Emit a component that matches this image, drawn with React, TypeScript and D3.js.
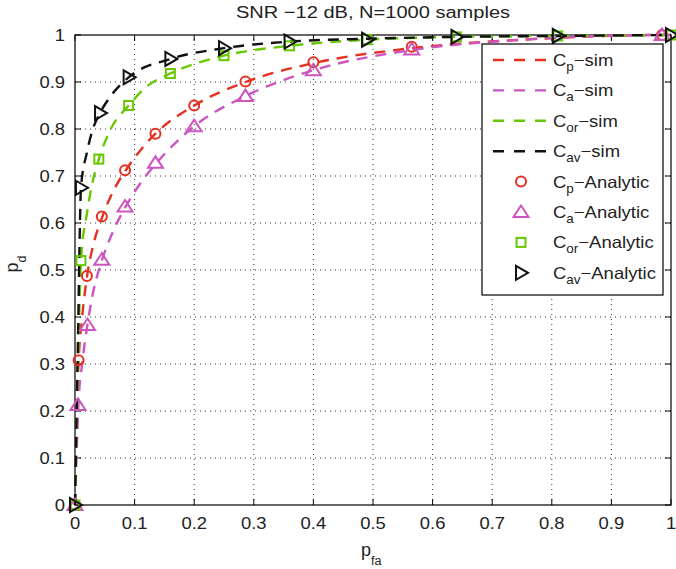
import React from "react";
import * as d3 from "d3";

// ---------- data ----------
const xTicks = [0, 0.1, 0.2, 0.3, 0.4, 0.5, 0.6, 0.7, 0.8, 0.9, 1];
const yTicks = [0, 0.1, 0.2, 0.3, 0.4, 0.5, 0.6, 0.7, 0.8, 0.9, 1];

// simulation curves (dashed)
const cpSimX = [0, 0.003, 0.006, 0.012, 0.02, 0.03, 0.045, 0.065, 0.084, 0.11, 0.135, 0.2, 0.286, 0.4, 0.565, 0.75, 0.985, 1];
const cpSimY = [0, 0.2, 0.305, 0.4, 0.485, 0.55, 0.61, 0.67, 0.71, 0.755, 0.79, 0.85, 0.9, 0.94, 0.972, 0.99, 1, 1];
const caSimX = [0, 0.003, 0.006, 0.012, 0.021, 0.03, 0.045, 0.065, 0.085, 0.11, 0.135, 0.2, 0.286, 0.4, 0.565, 0.75, 0.985, 1];
const caSimY = [0, 0.12, 0.22, 0.3, 0.385, 0.45, 0.52, 0.585, 0.635, 0.685, 0.725, 0.806, 0.87, 0.925, 0.968, 0.99, 1, 1];
const corSimX = [0, 0.003, 0.006, 0.01, 0.02, 0.03, 0.04, 0.06, 0.09, 0.12, 0.16, 0.25, 0.36, 0.49, 0.64, 0.81, 1];
const corSimY = [0, 0.2, 0.35, 0.52, 0.62, 0.69, 0.736, 0.8, 0.85, 0.89, 0.918, 0.956, 0.977, 0.99, 0.996, 0.998, 1];
const cavSimX = [0, 0.002, 0.005, 0.008, 0.01, 0.02, 0.03, 0.042, 0.06, 0.09, 0.16, 0.25, 0.36, 0.49, 0.64, 0.81, 1];
const cavSimY = [0, 0.15, 0.35, 0.58, 0.675, 0.75, 0.8, 0.834, 0.87, 0.91, 0.949, 0.972, 0.986, 0.992, 0.996, 0.998, 1];

// analytic markers
const cpAnX = [0, 0.006, 0.02, 0.045, 0.084, 0.135, 0.2, 0.286, 0.4, 0.565, 0.985];
const cpAnY = [0, 0.308, 0.487, 0.614, 0.712, 0.79, 0.85, 0.901, 0.942, 0.975, 1];
const caAnX = [0, 0.005, 0.021, 0.045, 0.084, 0.135, 0.2, 0.286, 0.4, 0.565, 0.985];
const caAnY = [0, 0.213, 0.383, 0.522, 0.635, 0.728, 0.806, 0.87, 0.925, 0.969, 1];
const corAnX = [0, 0.01, 0.04, 0.09, 0.16, 0.25, 0.36, 0.49, 0.64, 0.81, 1];
const corAnY = [0, 0.52, 0.736, 0.85, 0.918, 0.956, 0.977, 0.99, 0.996, 0.998, 1];
const cavAnX = [0, 0.01, 0.042, 0.09, 0.16, 0.25, 0.36, 0.49, 0.64, 0.81, 1];
const cavAnY = [0, 0.675, 0.834, 0.91, 0.949, 0.972, 0.986, 0.99, 0.996, 0.998, 1];

const legendNames = [
  { base: "C", sub: "p", rest: "\u2212sim" },
  { base: "C", sub: "a", rest: "\u2212sim" },
  { base: "C", sub: "or", rest: "\u2212sim" },
  { base: "C", sub: "av", rest: "\u2212sim" },
  { base: "C", sub: "p", rest: "\u2212Analytic" },
  { base: "C", sub: "a", rest: "\u2212Analytic" },
  { base: "C", sub: "or", rest: "\u2212Analytic" },
  { base: "C", sub: "av", rest: "\u2212Analytic" },
];

const RED = "#e5301f";
const MAG = "#cc55c0";
const GRN = "#66c800";
const BLK = "#111111";

const W = 676;
const H = 569;
const FONT = "'Liberation Sans', Arial, Helvetica, sans-serif";
const SX = 1.15;

const x = d3.scaleLinear().domain([0, 1]).range([75, 671]);
const y = d3.scaleLinear().domain([0, 1]).range([505, 35]);

const zip = (xs: number[], ys: number[]) => xs.map((v, i) => [v, ys[i]] as [number, number]);

const lineGen = d3
  .line<[number, number]>()
  .x((d) => x(d[0]))
  .y((d) => y(d[1]))
  .curve(d3.curveMonotoneX);

function Marker({ kind, cx, cy, color }: { kind: string; cx: number; cy: number; color: string }) {
  const sw = 2;
  if (kind === "circle") return <circle cx={cx} cy={cy} r={5} fill="none" stroke={color} strokeWidth={sw} />;
  if (kind === "tri")
    return (
      <polygon
        points={`${cx},${cy - 6.5} ${cx + 7.5},${cy + 5} ${cx - 7.5},${cy + 5}`}
        fill="none"
        stroke={color}
        strokeWidth={sw}
      />
    );
  if (kind === "sq")
    return <rect x={cx - 4.5} y={cy - 4.5} width={9} height={9} fill="none" stroke={color} strokeWidth={sw} />;
  return (
    <polygon
      points={`${cx - 5},${cy - 7} ${cx + 7},${cy} ${cx - 5},${cy + 7}`}
      fill="none"
      stroke={color}
      strokeWidth={sw}
    />
  );
}

export default function App() {
  const sims = [
    { d: zip(cpSimX, cpSimY), c: RED },
    { d: zip(caSimX, caSimY), c: MAG },
    { d: zip(corSimX, corSimY), c: GRN },
    { d: zip(cavSimX, cavSimY), c: BLK },
  ];
  const ans = [
    { d: zip(cpAnX, cpAnY), c: RED, k: "circle" },
    { d: zip(caAnX, caAnY), c: MAG, k: "tri" },
    { d: zip(corAnX, corAnY), c: GRN, k: "sq" },
    { d: zip(cavAnX, cavAnY), c: BLK, k: "rtri" },
  ];
  const legendColors = [RED, MAG, GRN, BLK, RED, MAG, GRN, BLK];
  const legendKinds = ["", "", "", "", "circle", "tri", "sq", "rtri"];
  const [x0, x1] = x.range();
  const [y0, y1] = y.range();
  const dash = "11,8";
  const grid = "1,4";
  const tl = 6;
  const fmt = d3.format("~g");

  return (
    <svg width={W} height={H} style={{ position: "absolute", left: 0, top: 0, background: "#fff" }} fontFamily={FONT}>
      <rect x={0} y={0} width={W} height={H} fill="#fff" />
      {/* grid */}
      {xTicks.slice(1, -1).map((t) => (
        <line key={"gx" + t} x1={x(t)} x2={x(t)} y1={y0} y2={y1} stroke="#333" strokeWidth={1} strokeDasharray={grid} />
      ))}
      {yTicks.slice(1, -1).map((t) => (
        <line key={"gy" + t} x1={x0} x2={x1} y1={y(t)} y2={y(t)} stroke="#333" strokeWidth={1} strokeDasharray={grid} />
      ))}
      {/* ticks */}
      {xTicks.map((t) => (
        <g key={"tx" + t}>
          <line x1={x(t)} x2={x(t)} y1={y0} y2={y0 - tl} stroke="#000" />
          <line x1={x(t)} x2={x(t)} y1={y1} y2={y1 + tl} stroke="#000" />
          <text transform={`translate(${x(t)},529) scale(${SX},1)`} fontSize={16} textAnchor="middle" fill="#222">
            {fmt(t)}
          </text>
        </g>
      ))}
      {yTicks.map((t) => (
        <g key={"ty" + t}>
          <line x1={x0} x2={x0 + tl} y1={y(t)} y2={y(t)} stroke="#000" />
          <line x1={x1} x2={x1 - tl} y1={y(t)} y2={y(t)} stroke="#000" />
          <text transform={`translate(65,${y(t) + 5.5}) scale(${SX},1)`} fontSize={16} textAnchor="end" fill="#222">
            {fmt(t)}
          </text>
        </g>
      ))}
      {/* box */}
      <rect x={x0} y={y1} width={x1 - x0} height={y0 - y1} fill="none" stroke="#000" strokeWidth={1.2} />
      {/* sim lines */}
      {sims.map((s, i) => (
        <path key={"s" + i} d={lineGen(s.d) || ""} fill="none" stroke={s.c} strokeWidth={2.4} strokeDasharray={dash} />
      ))}
      {/* analytic markers */}
      {ans.map((a, i) => (
        <g key={"a" + i}>
          {a.d.map((p, j) => (
            <Marker key={j} kind={a.k} cx={x(p[0])} cy={y(p[1])} color={a.c} />
          ))}
        </g>
      ))}
      {/* title */}
      <text transform={`translate(373,18) scale(1.18,1)`} fontSize={17} textAnchor="middle" fill="#222">
        SNR {"\u2212"}12 dB, N=1000 samples
      </text>
      {/* axis labels */}
      <text transform="translate(361,556)" fontSize={18} fill="#222">
        p<tspan fontSize={12.5} dy={9}>fa</tspan>
      </text>
      <text transform="translate(18,264) rotate(-90)" fontSize={18} textAnchor="middle" fill="#222">
        p<tspan fontSize={12.5} dy={8}>d</tspan>
      </text>
      {/* legend */}
      <rect x={482} y={44} width={181} height={251} fill="#fff" stroke="#000" strokeWidth={1.2} />
      {legendNames.map((n, i) => {
        const cy = 60 + i * 30.4;
        return (
          <g key={"l" + i}>
            {i < 4 ? (
              <line x1={493} x2={548} y1={cy} y2={cy} stroke={legendColors[i]} strokeWidth={2.4} strokeDasharray="11,10" />
            ) : (
              <Marker kind={legendKinds[i]} cx={521} cy={cy} color={legendColors[i]} />
            )}
            <text transform={`translate(553,${cy + 6}) scale(1.12,1)`} fontSize={16.5} fill="#222">
              {n.base}
              <tspan fontSize={12} dy={5}>
                {n.sub}
              </tspan>
              <tspan dy={-5}>{n.rest}</tspan>
            </text>
          </g>
        );
      })}
    </svg>
  );
}
